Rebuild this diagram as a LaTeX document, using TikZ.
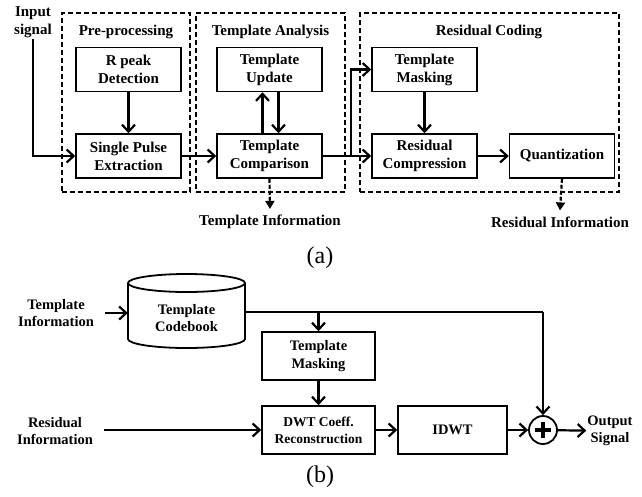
\documentclass[tikz,border=0pt]{standalone}
\usepackage{fontspec}
\setmainfont{Liberation Serif}
\usetikzlibrary{arrows.meta,positioning,calc}

\begin{document}
\begin{tikzpicture}[x=1pt,y=-1pt,
	block/.style={draw, line width=1.5pt, minimum width=105pt, minimum height=44pt, align=center, inner sep=2pt, font=\fontsize{15}{18}\selectfont\bfseries},
	group/.style={draw, line width=2pt, dash pattern=on 5pt off 3pt, minimum height=179pt},
	lbl/.style={align=center, inner sep=1pt, font=\fontsize{15}{18}\selectfont\bfseries},
	arr/.style={-{Straight Barb[length=7pt,width=13pt]}, line width=2.2pt},
	darr/.style={-{Triangle[length=8pt,width=9pt]}, line width=2.2pt, dash pattern=on 4pt off 2pt},
	sublabel/.style={font=\fontsize{24}{24}\selectfont}]
	\useasboundingbox (0,0) rectangle (642,496);
	
	% (a) encoder
	\node[group, minimum width=128pt] (pre) at (126,102.5) {};
	\node[group, minimum width=149pt] (ta) at (270.5,102.5) {};
	\node[group, minimum width=259pt] (rc) at (489.5,102.5) {};
	\node[lbl] (pretitle) at (126,32) {Pre-processing};
	\node[lbl] (tatitle) at (270.5,32) {Template Analysis};
	\node[lbl] (rctitle) at (489,32) {Residual Coding};
	
	\node[lbl] (input) at (33,22) {Input\\signal};
	\node[block] (rpeak) at (128.5,69.5) {R peak\\Detection};
	\node[block, below=41pt of rpeak] (spe) {Single Pulse\\Extraction};
	\node[block] (tupd) at (269.5,69.5) {Template\\Update};
	\node[block, below=41pt of tupd] (tcomp) {Template\\Comparison};
	\node[block] (tmask) at (424.5,69.5) {Template\\Masking};
	\node[block, below=41pt of tmask] (rcomp) {Residual\\Compression};
	\node[block, right=31pt of rcomp] (quant) {Quantization};
	\node[lbl] (tinfo) at (270,222) {Template Information};
	\node[lbl] (rinfo) at (560,222) {Residual Information};
	\coordinate (br) at (351,155);
	
	\draw[arr] (input.south) |- (spe.west);
	\draw[arr] (rpeak) -- (spe);
	\draw[arr] (spe) -- (tcomp);
	\draw[arr] ([xshift=-7pt]tcomp.north) -- ([xshift=-7pt]tupd.south);
	\draw[arr] ([xshift=9pt]tupd.south) -- ([xshift=9pt]tcomp.north);
	\draw[arr] (tcomp) -- (rcomp);
	\draw[arr] (br) |- (tmask.west);
	\draw[arr] (tmask) -- (rcomp);
	\draw[arr] (rcomp) -- (quant);
	\draw[darr] (tcomp.south) -- ([yshift=5pt]tinfo.north);
	\draw[darr] (quant.south) -- ([yshift=5pt]rinfo.north);
	
	\node[sublabel] (capa) at (320,258) {(a)};
	
	% (b) decoder
	\node[lbl, font=\fontsize{14.5}{17.5}\selectfont\bfseries] (tinfob) at (56,313) {Template\\Information};
	\node[lbl, font=\fontsize{14.5}{17.5}\selectfont\bfseries] (rinfob) at (55,431) {Residual\\Information};
	\node[align=center, minimum width=117pt, minimum height=56pt, font=\fontsize{14.5}{17.5}\selectfont\bfseries] (book) at (186.5,318) {Template\\Codebook};
	\draw[line width=1.8pt] (128,283) -- (128,339) arc[start angle=180, end angle=360, x radius=58.5pt, y radius=9pt] -- (245,283);
	\draw[line width=1.8pt] (186.5,283) ellipse[x radius=58.5pt, y radius=9pt];
	\node[block, minimum width=113pt, minimum height=48pt, font=\fontsize{14.5}{17.5}\selectfont\bfseries] (tmaskb) at (318.5,356) {Template\\Masking};
	\node[block, minimum width=113pt, minimum height=48pt, font=\fontsize{13.5}{17}\selectfont\bfseries] (dwt) at (318.5,430) {DWT Coeff.\\Reconstruction};
	\node[block, minimum width=109pt, minimum height=48pt, font=\fontsize{14.5}{17.5}\selectfont\bfseries] (idwt) at (452.5,430) {IDWT};
	\node[draw, circle, line width=1.8pt, minimum size=28pt, inner sep=0pt] (sum) at (543,430) {};
	\draw[line width=3.2pt] ([xshift=-8pt]sum.center) -- ([xshift=8pt]sum.center);
	\draw[line width=3.2pt] ([yshift=-8pt]sum.center) -- ([yshift=8pt]sum.center);
	\node[lbl, font=\fontsize{14.5}{17.5}\selectfont\bfseries] (outsig) at (610,431) {Output\\Signal};
	\coordinate (tib) at (105,313);
	\coordinate (rib) at (104,430);
	\coordinate (bookout) at (245,312);
	\coordinate (corner) at (543,312);
	\coordinate (br2) at (318.5,312);
	
	\draw[arr] (tib) -- (book.west |- tib);
	\draw[line width=2.2pt] (bookout) -- (corner);
	\draw[arr] (corner) -- (sum.north);
	\draw[arr] (br2) -- (tmaskb.north);
	\draw[arr] (tmaskb) -- (dwt);
	\draw[arr] (rib) -- (dwt.west);
	\draw[arr] (dwt) -- (idwt);
	\draw[arr] (idwt) -- (sum);
	\draw[arr] (sum) -- (outsig);
	
	\node[sublabel] (capb) at (320,477) {(b)};
\end{tikzpicture}
\end{document}
